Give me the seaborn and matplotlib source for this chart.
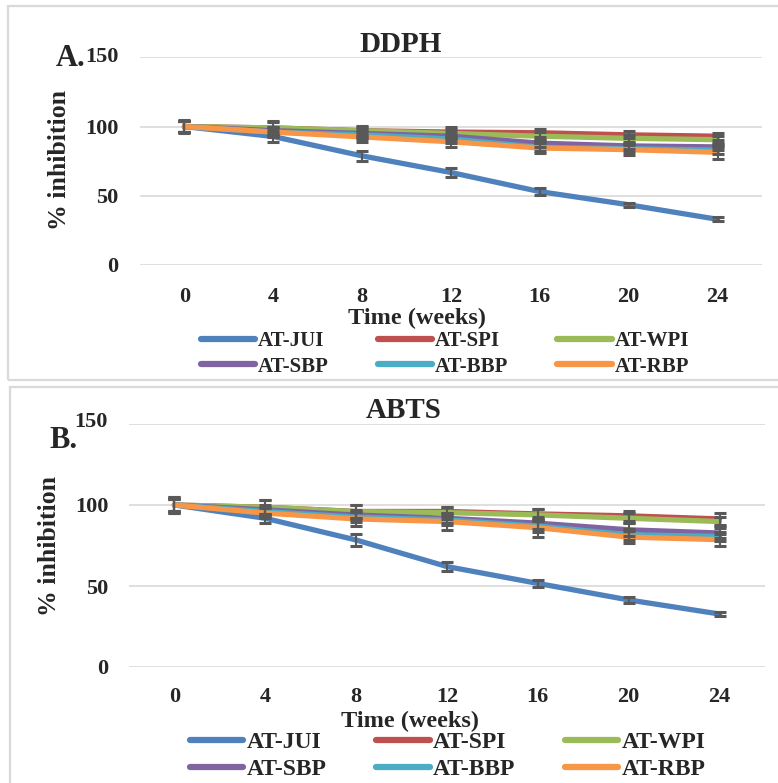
import numpy as np
import pandas as pd
import matplotlib
matplotlib.use("Agg")
import matplotlib.pyplot as plt
import matplotlib.patches as patches
import seaborn as sns

# donnees
semaines = ["0", "4", "8", "12", "16", "20", "24"]
series = ["AT-JUI", "AT-SPI", "AT-WPI", "AT-SBP", "AT-BBP", "AT-RBP"]
couleurs = ["#4F81BD", "#C0504D", "#9BBB59", "#8064A2", "#4BACC6", "#F79646"]

# DDPH
ddph_jui = [100, 92.8, 78.8, 66.8, 53.0, 43.5, 33.0]
ddph_spi = [100, 99.0, 97.0, 96.0, 95.5, 94.0, 93.0]
ddph_wpi = [100, 99.0, 97.0, 95.0, 93.0, 91.5, 90.5]
ddph_sbp = [100, 97.0, 95.0, 93.0, 88.0, 86.0, 85.3]
ddph_bbp = [100, 96.0, 94.0, 91.0, 85.0, 84.0, 83.0]
ddph_rbp = [100, 96.0, 92.5, 89.0, 84.5, 83.3, 81.4]
ddph_err_jui = [4, 4, 3.6, 3, 2.5, 1.5, 1.5]
ddph_err_spi = [4.5, 5, 3.5, 3.5, 3, 2.5, 2.5]
ddph_err_wpi = [4, 4, 3, 3, 3, 2.5, 2.5]
ddph_err_sbp = [4, 3, 3, 3, 2.5, 2, 2]
ddph_err_bbp = [4, 3, 3, 3, 3, 2.5, 2.5]
ddph_err_rbp = [4, 3.5, 3.5, 3.5, 3.5, 4, 4.5]

# ABTS
abts_jui = [100, 91.8, 78.4, 62.0, 51.6, 41.4, 32.7]
abts_spi = [100, 98.6, 96.0, 96.0, 94.5, 93.3, 91.4]
abts_wpi = [100, 98.6, 95.9, 95.3, 93.9, 91.8, 89.8]
abts_sbp = [100, 97.0, 93.8, 91.8, 88.8, 84.7, 82.7]
abts_bbp = [100, 96.0, 92.5, 90.8, 87.0, 81.6, 80.6]
abts_rbp = [100, 95.0, 91.4, 89.8, 86.0, 80.2, 78.6]
abts_err_jui = [5, 2.8, 3.6, 2.8, 2.4, 1.8, 1.5]
abts_err_spi = [5, 4.5, 4, 3, 3.2, 3.2, 3.9]
abts_err_wpi = [4.5, 4.4, 4, 3.7, 3.7, 3, 3]
abts_err_sbp = [4, 3, 3, 3, 3.5, 4, 3]
abts_err_bbp = [4, 3, 3, 3, 3.5, 3.5, 3]
abts_err_rbp = [4, 3, 4.4, 5.2, 5.5, 3.9, 3.6]

sns.set_style("white")
plt.rcParams["font.family"] = ["Liberation Serif", "DejaVu Serif"]
plt.rcParams["font.weight"] = "bold"

W, H = 778, 783


def fx(x):
    return x / W


def fy(y):
    return 1 - y / H


def tableau(valeurs):
    lignes = []
    for nom, vals in zip(series, valeurs):
        for i, v in enumerate(vals):
            lignes.append({"pos": i, "valeur": v, "serie": nom})
    return pd.DataFrame(lignes)


def panneau(ax, valeurs, erreurs, titre, lettre, cfg):
    df = tableau(valeurs)
    sns.lineplot(data=df, x="pos", y="valeur", hue="serie", hue_order=series,
                 palette=dict(zip(series, couleurs)), linewidth=3.8, ax=ax,
                 sort=False, errorbar=None)
    for line in ax.get_lines():
        line.set_solid_capstyle("round")
        line.set_solid_joinstyle("round")
    for vals, errs in zip(valeurs, erreurs):
        ax.errorbar(range(len(semaines)), vals, yerr=errs, fmt="none",
                    ecolor="#595959", elinewidth=1.5, capsize=4.3,
                    capthick=2.2, zorder=5)
    ax.set_xlim(-0.5, 6.5)
    ax.set_ylim(0, 150)
    ax.set_xticks(range(len(semaines)))
    ax.set_xticklabels(semaines)
    ax.set_yticks([0, 50, 100, 150])
    ax.set_yticklabels(["0", "50", "100", ""])
    ax.tick_params(axis="x", length=0, pad=cfg["xpad"], labelsize=16)
    ax.tick_params(axis="y", length=0, pad=cfg["ypad"], labelsize=16)
    ax.grid(axis="y", color="#D9D9D9", linewidth=1.2)
    ax.grid(axis="x", visible=False)
    for s in ax.spines.values():
        s.set_visible(False)
    ax.set_xlabel("")
    ax.set_ylabel("")

    # legende a 3 colonnes (remplissage par colonnes)
    handles, labels = ax.get_legend_handles_labels()
    ordre = [0, 3, 1, 4, 2, 5]
    leg = ax.legend([handles[i] for i in ordre], [labels[i] for i in ordre],
                    ncol=3, frameon=False, loc="center",
                    bbox_to_anchor=(fx(cfg["leg_x"]), fy(cfg["leg_y"])),
                    bbox_transform=fig.transFigure,
                    fontsize=cfg["leg_fs"], handlelength=cfg["hl"],
                    handletextpad=0.15, columnspacing=cfg["cs"],
                    labelspacing=0.25, borderpad=0, borderaxespad=0)
    for l in leg.get_lines():
        l.set_linewidth(4.5)
        l.set_solid_capstyle("round")

    fig.text(fx(cfg["title_x"]), fy(cfg["title_y"]), titre, ha="center",
             va="center", fontsize=21, fontweight="bold")
    fig.text(fx(cfg["xl_x"]), fy(cfg["xl_y"]), "Time (weeks)", ha="center",
             va="center", fontsize=17.5, fontweight="bold")
    fig.text(fx(cfg["yl_x"]), fy(cfg["yl_y"]), "% inhibition", ha="center",
             va="center", rotation=90, fontsize=18.5, fontweight="bold")
    fig.text(fx(cfg["let_x"]), fy(cfg["let_y"]), lettre, ha="right",
             va="center", fontsize=22, fontweight="bold")
    fig.text(fx(cfg["t150_x"]), fy(cfg["t150_y"]), "150", ha="right",
             va="center", fontsize=16, fontweight="bold")


fig = plt.figure(figsize=(W / 100, H / 100), dpi=100)

# cadres des deux panneaux
fig.patches.append(patches.Rectangle((fx(8), fy(380)), fx(790 - 8), (380 - 6) / H,
                                     transform=fig.transFigure, fill=False,
                                     edgecolor="#D9D9D9", linewidth=1.6))
fig.patches.append(patches.Rectangle((fx(10), fy(800)), fx(790 - 10), (800 - 387) / H,
                                     transform=fig.transFigure, fill=False,
                                     edgecolor="#D9D9D9", linewidth=1.6))

ax1 = fig.add_axes([fx(140), fy(265), (762 - 140) / W, (265 - 57.3) / H])
ax2 = fig.add_axes([fx(129), fy(667), (765 - 129) / W, (667 - 424) / H])

cfg_a = dict(xpad=15.5, ypad=15.5, leg_x=445, leg_y=354, leg_fs=15, hl=2.6, cs=2.35,
             title_x=401, title_y=44, xl_x=417, xl_y=318, yl_x=60, yl_y=160,
             let_x=85, let_y=58, t150_x=119, t150_y=57)
cfg_b = dict(xpad=14.5, ypad=15, leg_x=448, leg_y=756, leg_fs=17, hl=2.25, cs=2.1,
             title_x=404, title_y=410, xl_x=410, xl_y=721, yl_x=49, yl_y=546,
             let_x=78, let_y=441, t150_x=108, t150_y=422)

panneau(ax1, [ddph_jui, ddph_spi, ddph_wpi, ddph_sbp, ddph_bbp, ddph_rbp],
        [ddph_err_jui, ddph_err_spi, ddph_err_wpi, ddph_err_sbp, ddph_err_bbp, ddph_err_rbp],
        "DDPH", "A.", cfg_a)
panneau(ax2, [abts_jui, abts_spi, abts_wpi, abts_sbp, abts_bbp, abts_rbp],
        [abts_err_jui, abts_err_spi, abts_err_wpi, abts_err_sbp, abts_err_bbp, abts_err_rbp],
        "ABTS", "B.", cfg_b)

fig.savefig("out.png", dpi=100)
